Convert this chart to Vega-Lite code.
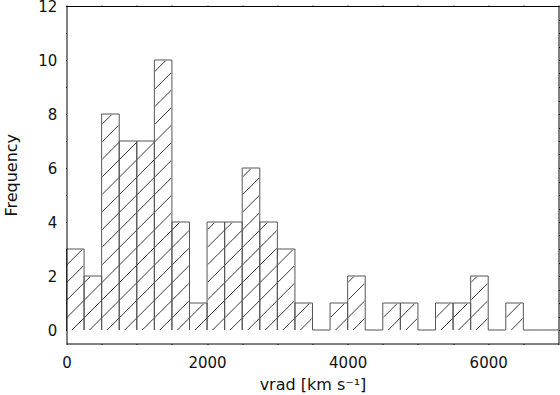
{
  "$schema": "https://vega.github.io/schema/vega-lite/v6.json",
  "width": 492,
  "height": 337.5,
  "autosize": {"type": "none"},
  "padding": {"left": 66.5, "top": 6, "right": 1.5, "bottom": 51.5},
  "background": "white",
  "config": {
    "view": {"stroke": null},
    "axis": {
      "grid": false,
      "labelFont": "DejaVu Sans",
      "labelFontSize": 15,
      "labelColor": "#111",
      "titleFont": "DejaVu Sans",
      "titleFontSize": 16,
      "titleFontWeight": "normal",
      "titleColor": "#111",
      "tickColor": "#000",
      "tickWidth": 1,
      "tickSize": 1,
      "domainColor": "#000",
      "domainWidth": 1,
      "labelFlush": false,
      "labelOverlap": false
    }
  },
  "data": {
    "values": [
      {"bin_start": 0, "bin_end": 250, "count": 3},
      {"bin_start": 250, "bin_end": 500, "count": 2},
      {"bin_start": 500, "bin_end": 750, "count": 8},
      {"bin_start": 750, "bin_end": 1000, "count": 7},
      {"bin_start": 1000, "bin_end": 1250, "count": 7},
      {"bin_start": 1250, "bin_end": 1500, "count": 10},
      {"bin_start": 1500, "bin_end": 1750, "count": 4},
      {"bin_start": 1750, "bin_end": 2000, "count": 1},
      {"bin_start": 2000, "bin_end": 2250, "count": 4},
      {"bin_start": 2250, "bin_end": 2500, "count": 4},
      {"bin_start": 2500, "bin_end": 2750, "count": 6},
      {"bin_start": 2750, "bin_end": 3000, "count": 4},
      {"bin_start": 3000, "bin_end": 3250, "count": 3},
      {"bin_start": 3250, "bin_end": 3500, "count": 1},
      {"bin_start": 3500, "bin_end": 3750, "count": 0},
      {"bin_start": 3750, "bin_end": 4000, "count": 1},
      {"bin_start": 4000, "bin_end": 4250, "count": 2},
      {"bin_start": 4250, "bin_end": 4500, "count": 0},
      {"bin_start": 4500, "bin_end": 4750, "count": 1},
      {"bin_start": 4750, "bin_end": 5000, "count": 1},
      {"bin_start": 5000, "bin_end": 5250, "count": 0},
      {"bin_start": 5250, "bin_end": 5500, "count": 1},
      {"bin_start": 5500, "bin_end": 5750, "count": 1},
      {"bin_start": 5750, "bin_end": 6000, "count": 2},
      {"bin_start": 6000, "bin_end": 6250, "count": 0},
      {"bin_start": 6250, "bin_end": 6500, "count": 1},
      {"bin_start": 6500, "bin_end": 6750, "count": 0},
      {"bin_start": 6750, "bin_end": 7000, "count": 0}
    ]
  },
  "resolve": {"axis": {"x": "independent", "y": "independent"}},
  "layer": [
    {
      "mark": {
        "type": "point",
        "filled": false,
        "opacity": 1,
        "size": 4,
        "stroke": "#3a3a3a",
        "strokeWidth": 1,
        "shape": "M0,-258.07L11.93,-270M0,-240.5L17.57,-258.07M0,-222.93L17.57,-240.5M0,-205.36L17.57,-222.93M0,-187.79L17.57,-205.36M0,-170.21L17.57,-187.79M0,-152.64L17.57,-170.21M0,-135.07L17.57,-152.64M0,-117.5L17.57,-135.07M0,-99.93L17.57,-117.5M0,-82.36L17.57,-99.93M0,-64.79L17.57,-82.36M0,-47.21L17.57,-64.79M0,-29.64L17.57,-47.21M0,-12.07L17.57,-29.64M5.5,0L17.57,-12.07"
      },
      "encoding": {
        "x": {"field": "bin_start", "type": "quantitative", "axis": null},
        "y": {"datum": 0, "type": "quantitative", "axis": null}
      }
    },
    {
      "mark": {"type": "rect", "fill": "white", "opacity": 1, "stroke": "white", "strokeWidth": 1.5},
      "encoding": {
        "x": {
          "field": "bin_start", "type": "quantitative",
          "scale": {"domain": [0, 7000], "nice": false, "zero": false},
          "axis": {
            "orient": "bottom",
            "zindex": 1,
            "values": [0, 500, 1000, 1500, 2000, 2500, 3000, 3500, 4000, 4500, 5000, 5500, 6000, 6500, 7000],
            "format": "d",
            "labelExpr": "datum.value % 2000 === 0 && datum.value < 7000 ? datum.label : ''",
            "labelPadding": 10.5,
            "title": "vrad [km s⁻¹]",
            "titlePadding": 6,
            "encode": {"ticks": {"update": {"y2": {"signal": "datum.value % 2000 === 0 ? -12 : -7"}}}}
          }
        },
        "x2": {"field": "bin_end"},
        "y": {
          "field": "count", "type": "quantitative",
          "scale": {"domain": [-0.5, 12], "nice": false, "zero": false},
          "axis": {
            "orient": "left",
            "zindex": 1,
            "values": [0, 0.5, 1, 1.5, 2, 2.5, 3, 3.5, 4, 4.5, 5, 5.5, 6, 6.5, 7, 7.5, 8, 8.5, 9, 9.5, 10, 10.5, 11, 11.5, 12],
            "format": "d",
            "labelExpr": "datum.value % 2 === 0 ? datum.label : ''",
            "labelPadding": 8.7,
            "title": "Frequency",
            "titlePadding": 18,
            "encode": {"ticks": {"update": {"x2": {"signal": "datum.value % 2 === 0 ? 12 : 7"}}}}
          }
        },
        "y2": {"datum": 12}
      }
    },
    {
      "mark": {"type": "rule", "color": "#555", "strokeWidth": 1},
      "encoding": {
        "x": {
          "field": "bin_start", "type": "quantitative",
          "axis": {
            "orient": "top",
            "zindex": 1,
            "values": [0, 500, 1000, 1500, 2000, 2500, 3000, 3500, 4000, 4500, 5000, 5500, 6000, 6500, 7000],
            "labels": false,
            "title": null,
            "encode": {"ticks": {"update": {"y2": {"signal": "datum.value % 2000 === 0 ? 12 : 7"}}}}
          }
        },
        "y": {
          "field": "count", "type": "quantitative",
          "axis": {
            "orient": "right",
            "zindex": 1,
            "values": [0, 0.5, 1, 1.5, 2, 2.5, 3, 3.5, 4, 4.5, 5, 5.5, 6, 6.5, 7, 7.5, 8, 8.5, 9, 9.5, 10, 10.5, 11, 11.5, 12],
            "labels": false,
            "title": null,
            "encode": {"ticks": {"update": {"x2": {"signal": "datum.value % 2 === 0 ? -12 : -7"}}}}
          }
        },
        "y2": {"datum": 0}
      }
    },
    {
      "mark": {"type": "rule", "color": "#555", "strokeWidth": 1},
      "encoding": {
        "x": {"field": "bin_end", "type": "quantitative", "axis": null},
        "y": {"field": "count", "type": "quantitative", "axis": null},
        "y2": {"datum": 0}
      }
    },
    {
      "mark": {"type": "rule", "color": "#555", "strokeWidth": 1},
      "encoding": {
        "x": {"field": "bin_start", "type": "quantitative", "axis": null},
        "x2": {"field": "bin_end"},
        "y": {"field": "count", "type": "quantitative", "axis": null}
      }
    }
  ]
}
